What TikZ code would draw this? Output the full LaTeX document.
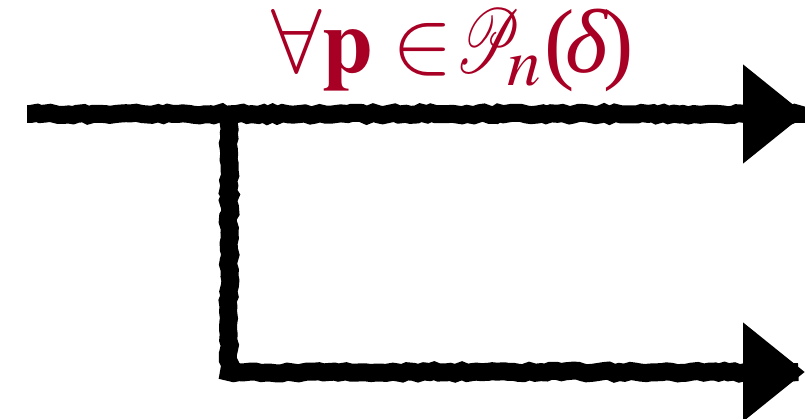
\documentclass[tikz,border=0pt]{standalone}
\usepackage{mathptmx}
\usepackage{mathrsfs}
\usepackage[no-math]{fontspec}
\setmainfont{Liberation Serif}
\usepackage{graphicx}
\usepackage{tikz}
\usetikzlibrary{positioning,arrows.meta,decorations.pathmorphing}

\definecolor{labelred}{RGB}{168,0,36}
\newcommand{\scrP}{\mathord{\scalebox{0.66}[1]{$\mathscr{P}$}}}

\begin{document}
\begin{tikzpicture}[x=0.02cm, y=-0.02cm,
  wire/.style={line width=0.36cm, black, line join=miter,
    decorate, decoration={random steps, segment length=3pt, amplitude=0.8pt, pre length=2pt, post length=4pt},
    -{Triangle[length=1.24cm, width=1.9cm]}},
  lbl/.style={text=labelred, anchor=base, inner sep=0pt}]
  \useasboundingbox (0,0) rectangle (805,419);
  \coordinate (in) at (27,114);
  \coordinate (split) at (229,114);
  \coordinate (outA) at (805,114);
  \coordinate (outB) at (805,372);
  \node[lbl] (cond) at (453,72) {\scalebox{4.7}{\fontsize{11}{13}\selectfont$\forall\mathbf{p}\in\kern-.2em\scrP_{\kern-.15em n}$(\kern-.1em\textit{δ}\kern-.06em)}};
  \draw[wire] (in) -- (outA);
  \draw[wire] (split) |- (outB);
\end{tikzpicture}
\end{document}
